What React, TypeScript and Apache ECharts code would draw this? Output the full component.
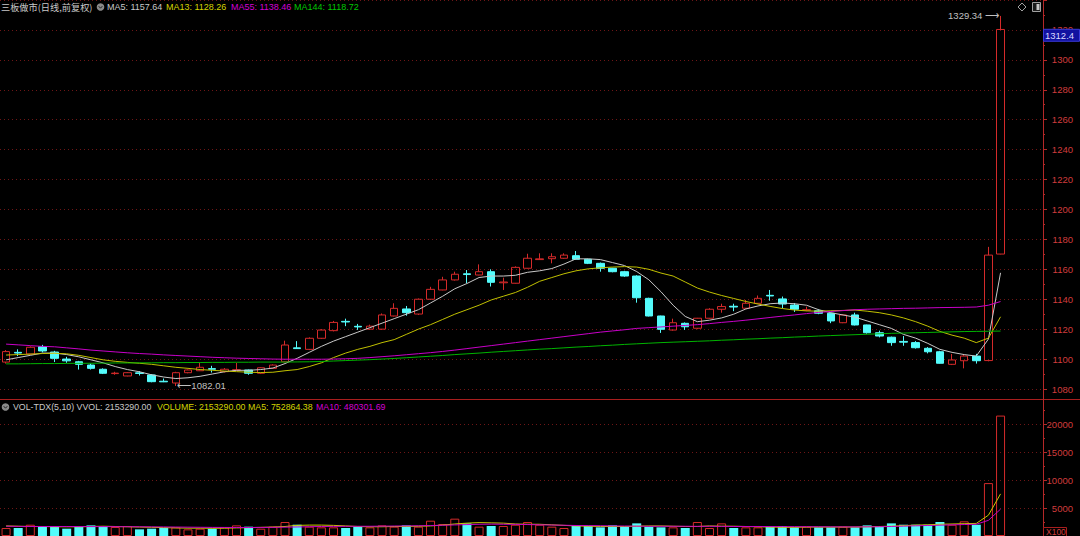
import { useEffect, useRef } from 'react';
import * as echarts from 'echarts';

// ---------- data ----------
const opens = [
  1098, 1104.5, 1103.4, 1108.3, 1104.7, 1100, 1098.2, 1096, 1093.2, 1090.3,
  1088.7, 1090.8, 1089.4, 1085.2, 1084, 1090.9, 1092.2, 1093.6, 1091.6, 1092.5,
  1092.7, 1090.5, 1093.8, 1098.2, 1107.5, 1106.5, 1113.9, 1119, 1125.2, 1121.9,
  1120, 1120, 1128.8, 1133.5, 1130.1, 1140, 1146.2, 1152.9, 1157, 1156.2,
  1158.4, 1151, 1150.7, 1160.7, 1166.5, 1167.1, 1167.4, 1169.1, 1166.7, 1164,
  1160.7, 1158.4, 1155.5, 1140.6, 1128.8, 1119.4, 1123.9, 1120.6, 1127.3, 1133.3,
  1135.3, 1134, 1137.3, 1142.6, 1140.2, 1136.1, 1132.6, 1132.3, 1130.6, 1124.3,
  1129.5, 1122.8, 1117.6, 1114.6, 1111.8, 1111, 1107.2, 1104.9, 1096.5, 1098.9,
  1102, 1099, 1170.2,
];
const closes = [
  1105, 1104, 1107.9, 1105.4, 1100.5, 1098.8, 1096.5, 1093.8, 1090.5, 1090.6,
  1090.9, 1090.4, 1084.9, 1084.8, 1090.9, 1092.7, 1094.5, 1093.2, 1093.2, 1092.9,
  1090.5, 1094.2, 1096, 1109.4, 1107, 1113.9, 1119.4, 1124.5, 1124.8, 1121.5,
  1122, 1129.5, 1133.9, 1131, 1140, 1146.6, 1152.9, 1156.7, 1156.5, 1158.4,
  1151.3, 1151.5, 1161.3, 1167.4, 1167, 1168.4, 1169.5, 1166.7, 1164, 1160.7,
  1158.4, 1155.5, 1141, 1128.8, 1119.9, 1124.3, 1121.6, 1127.3, 1133.3, 1135.1,
  1134.8, 1137.3, 1140.6, 1142.2, 1136.8, 1133.3, 1133, 1130.6, 1125.5, 1129.5,
  1122.8, 1117.6, 1115.4, 1111, 1111.3, 1107.6, 1104.9, 1097.2, 1099.4, 1102,
  1098.9, 1169.5, 1320.3,
];
const lows = [
  1097, 1102, 1103, 1104.5, 1098, 1097.5, 1093, 1093, 1090, 1089.5,
  1088.5, 1089, 1084.5, 1084.6, 1082.01, 1090.5, 1092, 1091, 1091, 1092,
  1089.5, 1090, 1093.5, 1098, 1106.8, 1106, 1113.5, 1118.5, 1122, 1119.5,
  1119.5, 1119.5, 1128.5, 1129, 1129.5, 1139.5, 1146, 1152.5, 1150.7, 1156,
  1148.5, 1146.2, 1150.5, 1160.5, 1166.3, 1164, 1167, 1166.5, 1163.5, 1158.4,
  1158, 1155, 1137.7, 1128.5, 1117.5, 1119, 1119.5, 1120, 1127, 1131,
  1132, 1133.5, 1137, 1139, 1134, 1131.5, 1132, 1130, 1124, 1124,
  1122.5, 1117, 1114.5, 1108.9, 1108.9, 1107, 1103.8, 1097, 1096, 1093.8,
  1097, 1098.5, 1170,
];
const highs = [
  1106, 1106.5, 1108.5, 1109.5, 1105.5, 1101.5, 1098.8, 1097, 1093.8, 1091.5,
  1091.2, 1092, 1090, 1087, 1091.5, 1093, 1097.5, 1095.5, 1094, 1097.5,
  1093, 1094.5, 1096.5, 1112.3, 1112, 1114.5, 1120, 1125.5, 1127, 1123.5,
  1123, 1130.5, 1137.3, 1135.5, 1140.5, 1148.3, 1155, 1158.4, 1159.5, 1163.3,
  1160, 1154.4, 1162, 1170.4, 1170.7, 1170.7, 1170.7, 1172.2, 1167, 1164.5,
  1161, 1159, 1156, 1141, 1129, 1127, 1124.5, 1127.5, 1134, 1137,
  1137, 1139.5, 1142.5, 1146.2, 1141.8, 1137.5, 1135, 1133.3, 1131, 1130,
  1131, 1123, 1119, 1115, 1115.4, 1112, 1108, 1105.5, 1103.4, 1103.4,
  1103.5, 1175, 1329.34,
];
const ma5 = [
  1099.5, 1101, 1102.5, 1104, 1104, 1103, 1101.5, 1099.5, 1097.5, 1095,
  1093, 1091.5, 1089.5, 1088, 1087, 1087.5, 1088.5, 1090, 1091.5, 1092.5,
  1092.5, 1093, 1094, 1097, 1100.5, 1104.5, 1108.5, 1112, 1115, 1118,
  1121, 1124, 1127, 1130, 1133, 1137.5, 1142, 1147, 1150.5, 1154.5,
  1155.5, 1155.5, 1156, 1158, 1159, 1160.5, 1163.5, 1167, 1167, 1166.5,
  1164.5, 1162.5, 1158.5, 1153, 1145, 1136, 1128.5, 1125, 1126, 1127.5,
  1130, 1133.5, 1135.5, 1137, 1137.5, 1137, 1136, 1133, 1131, 1129.5,
  1128, 1125.5, 1123, 1120.5, 1116.5, 1114, 1110.5, 1106.5, 1104.5, 1103,
  1102, 1113.4, 1157.64,
];
const ma13 = [
  1102.7, 1103, 1103.3, 1103.7, 1103.9, 1103.5, 1102.5, 1101, 1099.5, 1098.5,
  1097.8, 1097.2, 1096.5, 1095.5, 1094.5, 1093.8, 1093, 1092.5, 1092, 1091.6,
  1091.2, 1091, 1091.2, 1092.2, 1093, 1095, 1097.5, 1101, 1104, 1106.5,
  1108.5, 1111, 1113, 1116.5, 1120, 1123, 1126.5, 1130, 1133, 1136,
  1139.5, 1142, 1144.5, 1148, 1152, 1154.5, 1157, 1159, 1160.3, 1161,
  1161.5, 1161.8, 1161.5, 1160, 1157.5, 1155.5, 1151.5, 1147.5, 1144.8, 1142.5,
  1140.5, 1138.5, 1136.8, 1135.2, 1133.8, 1132.8, 1132.2, 1132, 1132.3, 1132.5,
  1132.8, 1132, 1131, 1129.5, 1127.5, 1125, 1122, 1118.5, 1116, 1114,
  1111, 1114, 1128.26,
];
const ma55 = [
  1110, 1109.5, 1109, 1108.5, 1108.2, 1107.5, 1106.8, 1106, 1105.4, 1104.8,
  1104.2, 1103.7, 1103.3, 1102.8, 1102.4, 1102, 1101.6, 1101.2, 1100.9, 1100.6,
  1100.4, 1100.2, 1100, 1099.9, 1099.9, 1099.9, 1099.9, 1100, 1100.2, 1100.5,
  1101, 1101.6, 1102.2, 1102.9, 1103.6, 1104.3, 1105.1, 1106, 1107, 1108,
  1109, 1110, 1111, 1112, 1113, 1114, 1115, 1116, 1117, 1118,
  1118.8, 1119.6, 1120.5, 1121, 1121.5, 1122, 1122.5, 1123, 1123.7, 1124.5,
  1125.2, 1126, 1126.9, 1127.8, 1128.7, 1129.5, 1130.4, 1131.2, 1131.8, 1132.4,
  1133, 1133.3, 1133.5, 1133.7, 1133.9, 1134, 1134.2, 1134.4, 1134.5, 1134.6,
  1134.8, 1136, 1138.46,
];
const ma144 = [
  1096.8, 1096.8, 1096.9, 1097, 1097, 1097.1, 1097.2, 1097.2, 1097.3, 1097.4,
  1097.4, 1097.5, 1097.5, 1097.6, 1097.6, 1097.7, 1097.7, 1097.8, 1097.8, 1097.9,
  1097.9, 1098, 1098, 1098, 1098.1, 1098.2, 1098.4, 1098.7, 1099, 1099.3,
  1099.6, 1100, 1100.4, 1100.9, 1101.4, 1101.9, 1102.4, 1103, 1103.5, 1104,
  1104.6, 1105.1, 1105.6, 1106.1, 1106.6, 1107, 1107.5, 1108, 1108.4, 1108.9,
  1109.3, 1109.8, 1110.2, 1110.6, 1111, 1111.3, 1111.6, 1111.9, 1112.2, 1112.6,
  1112.9, 1113.3, 1113.6, 1114, 1114.3, 1114.7, 1115, 1115.4, 1115.7, 1116,
  1116.3, 1116.6, 1116.9, 1117.2, 1117.4, 1117.6, 1117.8, 1118, 1118.2, 1118.4,
  1118.5, 1118.6, 1118.72,
];
// volume in units of 100 (axis "X100")
const volumes = [
  1430, 1430, 2020, 1670, 1670, 1310, 1670, 1900, 1790, 1610,
  1790, 1190, 1310, 1430, 1550, 1190, 1310, 1310, 1550, 1900,
  1670, 1310, 1670, 2500, 2020, 1670, 1550, 1550, 1430, 1670,
  1550, 1900, 1670, 1900, 1670, 2740, 2140, 3100, 2260, 1670,
  1790, 1790, 2020, 2500, 2020, 1670, 1430, 1790, 1790, 1550,
  1900, 1670, 2260, 1670, 1550, 1550, 1430, 2500, 1430, 2260,
  1430, 1550, 1550, 1670, 1790, 1550, 1670, 1550, 1550, 1670,
  1550, 1900, 1790, 2260, 2020, 2020, 2020, 2500, 2020, 2620,
  2020, 9460, 21532.9,
];
const volMa5 = [
  1800, 1750, 1700, 1700, 1650, 1650, 1650, 1700, 1750, 1700,
  1650, 1600, 1550, 1500, 1450, 1400, 1400, 1380, 1400, 1450,
  1500, 1550, 1600, 1700, 1900, 1950, 1950, 1900, 1800, 1700,
  1650, 1650, 1700, 1700, 1750, 1800, 1950, 2150, 2300, 2400,
  2350, 2300, 2150, 2100, 2100, 2000, 1900, 1800, 1750, 1700,
  1700, 1700, 1750, 1800, 1800, 1750, 1700, 1700, 1800, 1750,
  1750, 1700, 1650, 1600, 1550, 1550, 1600, 1600, 1600, 1600,
  1600, 1650, 1700, 1750, 1850, 1950, 2000, 2100, 2150, 2200,
  2250, 3724, 7528.6438,
];
const volMa10 = [
  1750, 1720, 1700, 1700, 1700, 1700, 1690, 1680, 1680, 1670,
  1660, 1650, 1640, 1620, 1600, 1580, 1560, 1540, 1530, 1520,
  1520, 1530, 1550, 1580, 1620, 1660, 1700, 1720, 1730, 1740,
  1740, 1760, 1780, 1800, 1830, 1870, 1920, 1980, 2040, 2100,
  2120, 2100, 2080, 2050, 2000, 1960, 1920, 1880, 1860, 1840,
  1800, 1780, 1760, 1740, 1740, 1740, 1740, 1720, 1740, 1720,
  1700, 1700, 1700, 1690, 1680, 1670, 1660, 1650, 1640, 1630,
  1630, 1640, 1660, 1700, 1760, 1820, 1880, 1930, 2000, 2050,
  2100, 2800, 4803.0169,
];
const LAST_PRICE = 1312.4;
const EMPTY_SLOTS = 3;
const categories = Array.from({ length: opens.length + EMPTY_SLOTS }, (_, i) => `D${i + 1}`);

// ---------- styles ----------
const UP = '#d42a2a';
const DOWN = '#54fcfc';
const AXIS_RED = '#b42828';
const LABEL_RED = '#d03c3c';
const GRID_RED = '#6e1616';
const C_MA5 = '#c8c8c8';
const C_MA13 = '#c0c000';
const C_MA55 = '#c800c8';
const C_MA144 = '#00b400';
const FONT = '"Liberation Sans", Arial, sans-serif';
const CJK_FONT = '"Noto Sans CJK SC", "Liberation Sans", sans-serif';

const last = opens.length - 1;
const fmt2 = (v: number) => v.toFixed(2);

function text(x: number, y: number, s: string, fill: string, size = 9, family = FONT, z = 100) {
  return {
    type: 'text', x, y, z,
    style: { text: s, fill, font: `${size}px ${family}`, textVerticalAlign: 'middle', verticalAlign: 'middle' },
  };
}

function icon(cx: number, cy: number) {
  return [
    { type: 'circle', z: 100, shape: { cx, cy, r: 3.8 }, style: { fill: '#8a8a8a' } },
    { type: 'polyline', z: 101, shape: { points: [[cx - 1.8, cy - 0.8], [cx, cy + 1.2], [cx + 1.8, cy - 0.8]] }, style: { stroke: '#222', lineWidth: 1, fill: 'none' } },
  ];
}

function buildGraphics(tagY: number) {
  return [
    // separator between panels and full-height axis line
    { type: 'line', z: 90, shape: { x1: 0, y1: 399.5, x2: 1080, y2: 399.5 }, style: { stroke: '#a81e1e', lineWidth: 1 } },
    { type: 'line', z: 90, shape: { x1: 1043.5, y1: 0, x2: 1043.5, y2: 536 }, style: { stroke: AXIS_RED, lineWidth: 1 } },
    // top legend
    text(1, 7, '三板做市(日线,前复权)', '#c8c8c8', 9.2, CJK_FONT),
    ...icon(100.5, 7),
    text(107, 7, `MA5: ${fmt2(ma5[last])}`, C_MA5),
    text(166, 7, `MA13: ${fmt2(ma13[last])}`, '#d4d400'),
    text(231, 7, `MA55: ${fmt2(ma55[last])}`, '#d400d4'),
    text(294, 7, `MA144: ${fmt2(ma144[last])}`, '#00c800'),
    // volume legend
    ...icon(5.5, 407),
    text(13, 407, `VOL-TDX(5,10) VVOL: ${fmt2(volumes[last] * 100)}`, '#c8c8c8', 8.8),
    text(157, 407, `VOLUME: ${fmt2(volumes[last] * 100)}`, '#d4d400', 8.8),
    text(248, 407, `MA5: ${fmt2(volMa5[last] * 100)}`, '#d4d400', 8.8),
    text(316, 407, `MA10: ${fmt2(volMa10[last] * 100)}`, '#d400d4', 8.8),
    // top-right tool icons
    { type: 'polygon', z: 100, shape: { points: [[1022, 3], [1026, 7], [1022, 11], [1018, 7]] }, style: { stroke: '#a0a0a0', fill: 'none', lineWidth: 1 } },
    { type: 'rect', z: 100, shape: { x: 1032.5, y: 2.5, width: 8, height: 9 }, style: { stroke: '#a0a0a0', fill: '#1a1a1a', lineWidth: 1 } },
    { type: 'rect', z: 101, shape: { x: 1036.5, y: 4, width: 3, height: 6 }, style: { fill: '#c8c8c8' } },
    // last price tag
    { type: 'rect', z: 110, shape: { x: 1043.5, y: tagY - 12, width: 36, height: 12 }, style: { fill: '#1212a0', stroke: '#3a3ad8', lineWidth: 1 } },
    text(1045, tagY - 6, String(LAST_PRICE), '#d8d8ff', 9.5, FONT, 120),
    // volume unit box
    { type: 'rect', z: 100, shape: { x: 1043.5, y: 527.5, width: 23, height: 9 }, style: { stroke: '#a81e1e', fill: '#000', lineWidth: 1 } },
    text(1046, 532, 'X100', LABEL_RED, 8.5, FONT, 120),
  ];
}

function buildOption() {
  const candleData = opens.map((o, i) => [o, closes[i], lows[i], highs[i]]);
  const volData = volumes.map((v, i) => {
    const up = closes[i] >= opens[i];
    return {
      value: v,
      itemStyle: up
        ? { color: 'rgba(0,0,0,0)', borderColor: UP, borderWidth: 1 }
        : { color: DOWN, borderWidth: 0 },
    };
  });
  const lineSeries = (name: string, data: number[], color: string, xi: number, yi: number) => ({
    name, type: 'line', data, xAxisIndex: xi, yAxisIndex: yi,
    symbol: 'none', smooth: false, lineStyle: { color, width: 1 }, itemStyle: { color }, z: 5,
  });
  const axisCommon = {
    type: 'value', position: 'right',
    axisLine: { show: true, lineStyle: { color: AXIS_RED } },
    axisTick: { show: true, length: 4, lineStyle: { color: AXIS_RED } },
    minorTick: { show: true, splitNumber: 2, length: 2, lineStyle: { color: AXIS_RED } },
    splitLine: { show: true, lineStyle: { color: GRID_RED, type: [1, 3], width: 1 } },
    minorSplitLine: { show: false },
  };
  return {
    animation: false,
    backgroundColor: '#000',
    grid: [
      { left: -1, right: 37, top: 0, height: 389 },
      { left: -1, right: 37, top: 399, height: 137 },
    ],
    xAxis: [
      { type: 'category', data: categories, gridIndex: 0, boundaryGap: true, show: false },
      { type: 'category', data: categories, gridIndex: 1, boundaryGap: true, show: false },
    ],
    yAxis: [
      {
        ...axisCommon, gridIndex: 0, min: 1080, max: 1340, interval: 20,
        axisLabel: {
          color: LABEL_RED, fontSize: 9.5, fontFamily: FONT, align: 'right', margin: 30,
          showMaxLabel: false, formatter: (v: number) => (v >= 1340 ? '' : String(v)),
        },
      },
      {
        ...axisCommon, gridIndex: 1, min: 0, max: 24500, interval: 5000,
        axisLabel: {
          color: LABEL_RED, fontSize: 9.5, fontFamily: FONT, align: 'right', margin: 30,
          showMaxLabel: false, showMinLabel: false,
          formatter: (v: number) => (v === 0 || v > 20000 ? '' : String(v)),
        },
      },
    ],
    series: [
      {
        name: 'K', type: 'candlestick', data: candleData, xAxisIndex: 0, yAxisIndex: 0, barWidth: 8,
        itemStyle: { color: 'rgba(0,0,0,0)', color0: DOWN, borderColor: UP, borderColor0: DOWN, borderWidth: 1 },
        markPoint: {
          symbol: 'circle', symbolSize: 1, itemStyle: { color: 'rgba(0,0,0,0)' },
          label: { show: true, color: '#c0c0c0', fontSize: 9.5, fontFamily: FONT, distance: 1 },
          data: [
            { name: 'high', coord: [categories[last], highs[last]], label: { position: 'left', formatter: `${fmt2(highs[last])} ⟶` } },
            { name: 'low', coord: [categories[14], lows[14]], label: { position: 'right', formatter: `⟵${fmt2(lows[14])}` } },
          ],
        },
        z: 3,
      },
      lineSeries('MA5', ma5, C_MA5, 0, 0),
      lineSeries('MA13', ma13, C_MA13, 0, 0),
      lineSeries('MA55', ma55, C_MA55, 0, 0),
      lineSeries('MA144', ma144, C_MA144, 0, 0),
      { name: 'VOL', type: 'bar', data: volData, xAxisIndex: 1, yAxisIndex: 1, barWidth: 9, z: 3 },
      lineSeries('VMA5', volMa5, '#c8c800', 1, 1),
      lineSeries('VMA10', volMa10, '#c800c8', 1, 1),
    ],
  };
}

export default function App() {
  const ref = useRef<HTMLDivElement>(null);
  useEffect(() => {
    document.body.style.margin = '0';
    document.body.style.background = '#000';
    const chart = echarts.init(ref.current as HTMLDivElement, null, { renderer: 'svg' });
    chart.setOption(buildOption() as any);
    const tagY = chart.convertToPixel({ yAxisIndex: 0 } as any, LAST_PRICE) as unknown as number;
    chart.setOption({ graphic: buildGraphics(tagY) } as any);
    return () => chart.dispose();
  }, []);
  return (
    <div
      ref={ref}
      style={{ position: 'fixed', left: 0, top: 0, width: 1080, height: 536, background: '#000' }}
    />
  );
}
